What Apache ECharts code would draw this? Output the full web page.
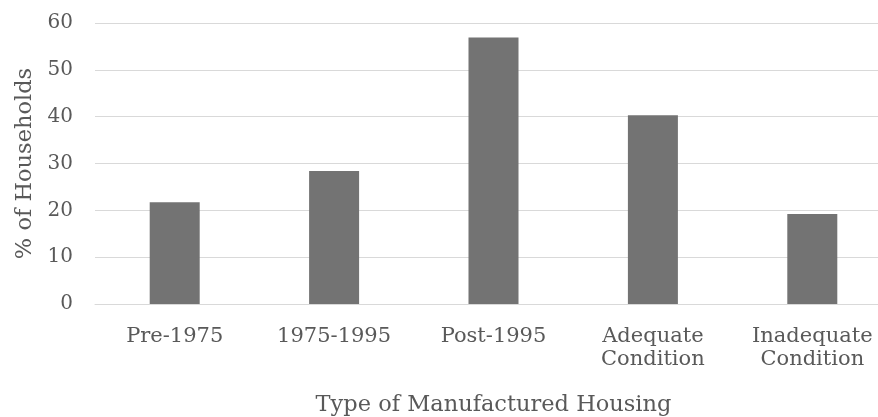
<!DOCTYPE html>
<html>
<head>
<meta charset="utf-8">
<script src="https://cdn.jsdelivr.net/npm/echarts@6/dist/echarts.min.js"></script>
<style>
  html, body { margin: 0; padding: 0; background: #fff; }
  #chart { width: 878px; height: 417px; }
</style>
</head>
<body>
<div id="chart"></div>
<script>
const categories = ['Pre-1975', '1975-1995', 'Post-1995', 'Adequate\nCondition', 'Inadequate\nCondition'];
const households = [21.7, 28.4, 56.9, 40.3, 19.2];
const yTicks = { min: 0, max: 60, interval: 10 };

const font = 'DejaVu Serif';
const textColor = '#595959';

const chart = echarts.init(document.querySelector('#chart'), null, { renderer: 'canvas' });

const option = {
  animation: false,
  grid: { left: 95, top: 23, width: 797, height: 281, outerBoundsMode: 'none', containLabel: false },
  xAxis: {
    type: 'category',
    data: categories,
    name: 'Type of Manufactured Housing',
    nameLocation: 'middle',
    nameGap: 90,
    nameTextStyle: { fontFamily: font, fontSize: 22.5, color: textColor },
    axisLine: { lineStyle: { color: '#d9d9d9', width: 1 } },
    axisTick: { show: false },
    axisLabel: {
      fontFamily: font, fontSize: 21, color: textColor,
      margin: 21, lineHeight: 23, interval: 0
    },
    splitLine: { show: false }
  },
  yAxis: {
    type: 'value',
    min: yTicks.min,
    max: yTicks.max,
    interval: yTicks.interval,
    name: '% of Households',
    nameLocation: 'middle',
    nameGap: 57,
    nameTextStyle: { fontFamily: font, fontSize: 22.5, color: textColor },
    axisLine: { show: false },
    axisTick: { show: false },
    axisLabel: { fontFamily: font, fontSize: 20, color: textColor, margin: 22 },
    splitLine: { lineStyle: { color: '#d9d9d9', width: 1 } }
  },
  series: [
    {
      type: 'bar',
      data: households,
      barWidth: 50,
      itemStyle: { color: '#737373' }
    }
  ]
};
chart.setOption(option);
</script>
</body>
</html>
